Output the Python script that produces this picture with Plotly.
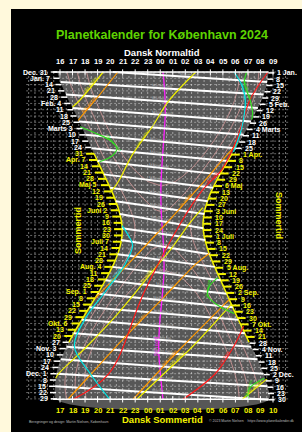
import math
import numpy as np
import plotly.graph_objects as go

# ---------------- DATA ----------------
# day numbers: 0 = 1 Jan 2024 ; times: clock hours in Danish normal time (CET), >24 = after midnight
sun_days = [-1, 15, 31, 45, 60, 74, 90, 105, 121, 135, 152, 166, 172, 182, 196, 213, 227, 244, 258, 274, 288, 300, 319, 335, 349, 364]
sunset = [15.78, 16.17, 16.70, 17.22, 17.72, 18.19, 18.72, 19.22, 19.77, 20.23, 20.68, 20.91, 20.96, 20.94, 20.74, 20.28, 19.77, 19.09, 18.48, 17.78, 17.17, 16.70, 16.05, 15.72, 15.61, 15.76]
sunrise = [32.64, 32.47, 32.07, 31.58, 31.02, 30.44, 29.75, 29.10, 28.46, 27.98, 27.57, 27.42, 27.42, 27.51, 27.78, 28.25, 28.70, 29.24, 29.69, 30.21, 30.68, 31.09, 31.76, 32.24, 32.55, 32.65]
summer_start, summer_end = 90, 300

tw_days = [-1, 15, 31, 45, 60, 74, 91, 105, 121, 135, 152, 166, 172, 182, 196, 213, 227, 244, 258, 274, 288, 305, 319, 335, 349, 364]
civil_eve = [16.56, 16.90, 17.38, 17.86, 18.34, 18.80, 19.38, 19.88, 20.50, 21.05, 21.61, 21.92, 21.98, 21.94, 21.65, 21.07, 20.49, 19.74, 19.10, 18.39, 17.80, 17.17, 16.75, 16.46, 16.39, 16.54]
civil_morn = [31.87, 31.74, 31.39, 30.94, 30.40, 29.83, 29.08, 28.44, 27.73, 27.16, 26.64, 26.41, 26.40, 26.52, 26.87, 27.46, 27.98, 28.59, 29.07, 29.60, 30.06, 30.61, 31.06, 31.49, 31.78, 31.88]

naut_a_days = [-1, 15, 31, 45, 60, 74, 91, 105, 121, 135, 145, 152, 155, 152, 145, 135, 121, 105, 91, 74, 60, 45, 31, 15, -1]
naut_a_time = [17.37, 17.68, 18.13, 18.58, 19.05, 19.52, 20.14, 20.73, 21.50, 22.30, 23.02, 23.57, 24.13, 24.69, 25.18, 25.90, 26.73, 27.60, 28.32, 29.11, 29.69, 30.22, 30.65, 30.96, 31.07]
naut_b_days = [364, 349, 335, 319, 305, 288, 274, 258, 244, 227, 213, 196, 191, 196, 213, 227, 244, 258, 274, 288, 305, 319, 335, 349, 364]
naut_b_time = [31.07, 30.97, 30.70, 30.30, 29.88, 29.35, 28.88, 28.32, 27.77, 27.03, 26.29, 25.15, 24.25, 23.37, 22.25, 21.45, 20.56, 19.85, 19.11, 18.51, 17.90, 17.51, 17.25, 17.20, 17.35]
astro_a_days = [-1, 15, 31, 45, 60, 74, 91, 105, 115, 121, 126, 121, 115, 105, 91, 74, 60, 45, 31, 15, -1]
astro_a_time = [18.12, 18.41, 18.85, 19.29, 19.76, 20.27, 20.98, 21.73, 22.47, 23.03, 24.11, 25.20, 25.81, 26.60, 27.48, 28.36, 28.97, 29.51, 29.93, 30.23, 30.32]
astro_b_days = [364, 349, 335, 319, 305, 288, 274, 258, 244, 227, 219, 227, 244, 258, 274, 288, 305, 319, 335, 349, 364]
astro_b_time = [30.32, 30.21, 29.96, 29.58, 29.17, 28.63, 28.14, 27.50, 26.82, 25.68, 24.25, 22.80, 21.51, 20.67, 19.85, 19.22, 18.61, 18.23, 17.99, 17.95, 18.10]

# Moon lines (start at evening edge, end at morning edge)
moonset_d0 = [10, 39, 69, 98, 128, 157, 186, 216, 246, 275, 305, 335]
moonset_t0 = [16.04, 17.00, 18.02, 18.99, 20.00, 20.76, 20.88, 20.17, 19.00, 17.74, 16.51, 15.72]
moonset_d1 = [24, 54, 84, 113, 143, 173, 202, 231, 261, 290, 319, 349]
moonset_t1 = [32.25, 31.24, 30.01, 28.78, 27.79, 27.43, 27.95, 28.83, 29.79, 30.75, 31.76, 32.55]
moonrise_d0 = [-1, 24, 54, 84, 113, 143, 173, 202, 231, 261, 290, 319, 349]
moonrise_t0 = [20.21, 16.47, 17.52, 18.52, 19.50, 20.44, 20.96, 20.58, 19.61, 18.35, 17.09, 16.05, 15.61]
moonrise_d1 = [10, 39, 69, 98, 128, 157, 186, 216, 246, 275, 305, 335, 364]
moonrise_t1 = [32.53, 31.79, 30.65, 29.40, 28.22, 27.52, 27.59, 28.35, 29.30, 30.24, 31.26, 32.24, 32.64]

# Planets
jup_transit1_d = [-1, 31, 38];               jup_transit1_t = [19.45, 17.54, 17.0]
jup_set1_d = [-1, 31, 60, 91, 121, 132];     jup_set1_t = [26.85, 24.69, 23.36, 21.78, 20.66, 20.1]
jup_rise_d = [150, 166, 196, 213, 244, 274, 305, 335, 340]
jup_rise_t = [27.4, 26.43, 24.87, 23.86, 22.05, 20.24, 18.12, 15.89, 15.65]
jup_transit2_d = [258, 305, 335, 364];       jup_transit2_t = [29.65, 26.56, 24.29, 22.1]
jup_set2_d = [341, 364];                     jup_set2_t = [32.5, 30.5]

sat_set1_d = [-1, 31, 45, 53];               sat_set1_t = [20.62, 18.77, 17.9, 17.45]
sat_rise_d = [78, 91, 121, 166, 213, 251];   sat_rise_t = [30.2, 29.35, 27.48, 24.59, 21.43, 18.8]
sat_transit_d = [201, 213, 251, 305, 335, 364]; sat_transit_t = [27.9, 26.83, 24.2, 20.46, 18.5, 16.6]
sat_set2_d = [251, 305, 335, 364];           sat_set2_t = [29.6, 25.76, 23.71, 21.8]

mars_rise_d = [-1, 30, 71, 108, 130, 166, 244, 335, 364]
mars_rise_t = [32.6, 31.16, 30.2, 28.9, 27.4, 25.68, 22.72, 19.9, 16.97]
mars_transit_d = [282, 305, 335, 364];       mars_transit_t = [30.65, 29.85, 28.39, 25.76]

ven_rise_d = [-1, 15, 31, 60, 88];           ven_rise_t = [29.9, 30.55, 30.79, 30.52, 29.85]
ven_set_d = [170, 182, 192, 213, 244, 274, 305, 335, 364]
ven_set_t = [20.95, 21.5, 21.8, 21.2, 19.6, 18.0, 17.15, 18.42, 20.0]

mer_rise1_d = [-1, 11, 31, 45, 52];          mer_rise1_t = [30.9, 30.71, 31.19, 31.37, 31.3]
mer_set1_d = [60, 67, 75, 84, 89, 94, 99];   mer_set1_t = [17.6, 18.79, 19.99, 20.55, 20.39, 19.99, 19.15]
mer_rise2_d = [228, 238, 248, 258, 268];     mer_rise2_t = [28.6, 27.9, 27.8, 28.5, 29.9]
mer_rise3_d = [340, 350, 358, 364];          mer_rise3_t = [32.3, 31.2, 31.0, 31.1]

midnight_d = [-1, 20, 45, 70, 100, 130, 160, 190, 220, 250, 280, 310, 340, 364]
midnight_t = [24.22, 24.35, 24.40, 24.30, 24.15, 24.05, 24.10, 24.25, 24.30, 24.15, 23.95, 23.88, 24.05, 24.22]

top_hours = list(range(16, 34))
top_labels = ["16", "17", "18", "19", "20", "21", "22", "23", "00", "01", "02", "03", "04", "05", "06", "07", "08", "09"]
bottom_labels = ["17", "18", "19", "20", "21", "22", "23", "00", "01", "02", "03", "04", "05", "06", "07", "08", "09", "10"]

left_days = list(range(-1, 364, 7))
left_labels = ["Dec. 31", "Jan. 7", "14", "21", "28", "Feb. 4", "11", "18", "25", "Marts 3", "10", "17", "24", "31",
               "Apr. 7", "14", "21", "28", "Maj 5", "12", "19", "26", "Juni 2", "9", "16", "23", "30", "Juli 7", "14",
               "21", "28", "Aug. 4", "11", "18", "25", "Sep. 1", "8", "15", "22", "29", "Okt. 6", "13", "20", "27",
               "Nov. 3", "10", "17", "24", "Dec. 1", "8", "15", "22", "29"]
right_days = list(range(0, 365, 7))
right_labels = ["1 Jan.", "8", "15", "22", "29", "5 Feb.", "12", "19", "26", "4 Marts", "11", "18", "25", "1 Apr.", "8",
                "15", "22", "29", "6 Maj", "13", "20", "27", "3 Juni", "10", "17", "24", "1 Juli", "8", "15", "22", "29",
                "5 Aug.", "12", "19", "26", "2 Sep.", "9", "16", "23", "30", "7 Okt.", "14", "21", "28", "4 Nov.", "11",
                "18", "25", "2 Dec.", "9", "16", "23", "30"]

# ---------------- GEOMETRY ----------------
W, H = 302, 432
PX0, PXH = 60.0, 12.53
PY0, PYD = 72.9, 0.898
def hx(p): return 16 + (p - PX0) / PXH
def dy(p): return (p - PY0) / PYD
def px(h): return PX0 + (h - 16) * PXH
def py(d): return PY0 + d * PYD

YEL = "#f2f200"
FONT = "Liberation Sans, Arial, sans-serif"

fig = go.Figure()

def line(xs, ys, color, width, dash=None, shape="linear", fill=None, fillcolor=None):
    fig.add_trace(go.Scatter(x=xs, y=ys, mode="lines",
                             line=dict(color=color, width=width, dash=dash, shape=shape),
                             fill=fill, fillcolor=fillcolor, hoverinfo="skip", showlegend=False))

def label(x, y, text, color, size, angle=0, xanchor="center", bold=False, yanchor="middle"):
    fig.add_annotation(x=x, y=y, xref="x", yref="y", text=("<b>%s</b>" % text) if bold else text,
                       showarrow=False, font=dict(family=FONT, size=size, color=color),
                       textangle=angle, xanchor=xanchor, yanchor=yanchor)

# night area
line(sunset + sunrise[::-1], sun_days + sun_days[::-1], "rgba(0,0,0,0)", 0, shape="spline",
     fill="toself", fillcolor="#575757")

# grid
gx, gy = [], []
for k in range(0, 42):
    h = 13.5 + 0.5 * k
    gx += [h, h, None]; gy += [-1, 364, None]
line(gx, gy, "rgba(255,255,255,0.45)", 1, dash="2px,2px")
gx, gy = [], []
for d in left_days:
    gx += [13.3, 34.3, None]; gy += [d, d, None]
line(gx, gy, "rgba(255,255,255,0.40)", 1, dash="2px,2px")

# twilight
TW = "rgba(205,150,150,0.85)"
line(civil_eve, tw_days, TW, 1, shape="spline")
line(civil_morn, tw_days, TW, 1, shape="spline")
line(naut_a_time, naut_a_days, TW, 1)
line(naut_b_time, naut_b_days, TW, 1)
line(astro_a_time, astro_a_days, TW, 1)
line(astro_b_time, astro_b_days, TW, 1)

# summer part of boundaries
i0, i1 = sun_days.index(summer_start), sun_days.index(summer_end)
line(sunset[i0:i1 + 1], sun_days[i0:i1 + 1], YEL, 1.5, shape="spline")
line(sunrise[i0:i1 + 1], sun_days[i0:i1 + 1], YEL, 1.5, shape="spline")

# midnight
line(midnight_t, midnight_d, "#ff22ff", 1.3, shape="spline")

# moon
for a, b, c, e in zip(moonset_t0, moonset_d0, moonset_t1, moonset_d1):
    line([a, c], [b, e], "white", 2)
for a, b, c, e in zip(moonrise_t0, moonrise_d0, moonrise_t1, moonrise_d1):
    line([a, c], [b, e], "white", 2)

def ang(t0, d0, t1, d1):
    return math.degrees(math.atan2(py(d1) - py(d0), px(t1) - px(t0)))

for a, b, c, e in zip(moonset_t0, moonset_d0, moonset_t1, moonset_d1):
    label((a + c) / 2, (b + e) / 2 - 2.5, "Månen ned", "#b8b8b8", 4, ang(a, b, c, e))
for a, b, c, e in zip(moonrise_t0, moonrise_d0, moonrise_t1, moonrise_d1):
    label((a + c) / 2, (b + e) / 2 - 2.5, "Månen op", "#b8b8b8", 4, ang(a, b, c, e))

# planets
JUP, SAT, MARS, VEN, MER = "#f0f000", "#ff9a00", "#ff1a1a", "#00e5e5", "#33dd22"
planet_lines = [
    (jup_transit1_t, jup_transit1_d, JUP, "Jupiter syd"), (jup_set1_t, jup_set1_d, JUP, "Jupiter ned"),
    (jup_rise_t, jup_rise_d, JUP, "Jupiter op"), (jup_transit2_t, jup_transit2_d, JUP, "Jupiter syd"),
    (jup_set2_t, jup_set2_d, JUP, "Jupiter ned"),
    (sat_set1_t, sat_set1_d, SAT, "Saturn ned"), (sat_rise_t, sat_rise_d, SAT, "Saturn op"),
    (sat_transit_t, sat_transit_d, SAT, "Saturn syd"), (sat_set2_t, sat_set2_d, SAT, "Saturn ned"),
    (mars_rise_t, mars_rise_d, MARS, "Mars op"), (mars_transit_t, mars_transit_d, MARS, "Mars syd"),
    (ven_rise_t, ven_rise_d, VEN, "Venus op"), (ven_set_t, ven_set_d, VEN, "Venus ned"),
    (mer_rise1_t, mer_rise1_d, MER, "Merkur op"), (mer_set1_t, mer_set1_d, MER, "Merkur ned"),
    (mer_rise2_t, mer_rise2_d, MER, "Merkur op"), (mer_rise3_t, mer_rise3_d, MER, "Merkur op"),
]
for ts, ds, col, name in planet_lines:
    line(ts, ds, col, 1.2, shape="spline")
    k = len(ts) // 2
    k0, k1 = max(k - 1, 0), min(k, len(ts) - 1)
    if k0 == k1:
        k1 = k0 + 1
    label((ts[k0] + ts[k1]) / 2, (ds[k0] + ds[k1]) / 2 - 2, name, col, 4, ang(ts[k0], ds[k0], ts[k1], ds[k1]))

# top / bottom frame lines and hour ticks
line([15.45, 32.65], [-1, -1], "white", 1.5)
line([15.45, 32.65], [363.5, 363.5], "white", 1.5)
tx, ty = [], []
for h in top_hours:
    tx += [h, h, None, h, h, None]; ty += [-4, 3, None, 360, 367, None]
line(tx, ty, "white", 1)

# date ticks and labels
wx, wy, yx, yy = [], [], [], []
for d, txt in zip(left_days, left_labels):
    b = float(np.interp(d, sun_days, sunset))
    summer = summer_start <= d < summer_end
    col = YEL if summer else "white"
    if summer:
        yx += [b - 8 / PXH, b, None]; yy += [d, d, None]
    else:
        wx += [b - 6 / PXH, b, None]; wy += [d, d, None]
    off = 9.5 if summer else 7
    label(b - off / PXH, d, txt, col, 7, xanchor="right", bold=True)
for d, txt in zip(right_days, right_labels):
    b = float(np.interp(d, sun_days, sunrise))
    summer = summer_start <= d < summer_end
    col = YEL if summer else "white"
    if summer:
        yx += [b, b + 8 / PXH, None]; yy += [d, d, None]
    else:
        wx += [b, b + 6 / PXH, None]; wy += [d, d, None]
    off = 9.5 if summer else 7
    label(b + off / PXH, d, txt, col, 7, xanchor="left", bold=True)
line(wx, wy, "white", 1.5)
line(yx, yy, YEL, 2)

# hour labels
for h, a, b in zip(top_hours, top_labels, bottom_labels):
    label(h, dy(61), a, "white", 7.5, bold=True)
    label(h, dy(410), b, YEL, 7.5, bold=True)

label(hx(78), dy(231), "Sommertid", YEL, 9, angle=-90, bold=True)
label(hx(279), dy(215), "Sommertid", YEL, 9, angle=90, bold=True)
label(hx(156), dy(346), "Sol i nord", "#ff22ff", 4.5, angle=-90)

# header / footer
def ptext(xp, ypx, text, color, size, xanchor="center", bold=False):
    fig.add_annotation(x=xp / W, y=1 - ypx / H, xref="paper", yref="paper",
                       text=("<b>%s</b>" % text) if bold else text, showarrow=False,
                       font=dict(family=FONT, size=size, color=color), xanchor=xanchor, yanchor="middle")

ptext(162, 35, "Planetkalender for København 2024", "#5fd400", 12.5, bold=True)
ptext(162, 52.5, "Dansk Normaltid", "white", 9.5, bold=True)
ptext(162, 419, "Dansk Sommertid", YEL, 9.5, bold=True)
ptext(27, 422, "Beregninger og design: Martin Nielsen, København", "#bbbbbb", 3.5, xanchor="left")
ptext(296, 421, "© 2023 Martin Nielsen    https://www.planetkalender.dk", "#bbbbbb", 3.5, xanchor="right")

fig.add_shape(type="rect", xref="paper", yref="paper", x0=11 / W, x1=1, y0=0, y1=1 - 9 / H,
              fillcolor="black", line=dict(width=0), layer="below")

fig.update_layout(width=W, height=H, margin=dict(l=0, r=0, t=0, b=0),
                  paper_bgcolor="#fff9dc", plot_bgcolor="rgba(0,0,0,0)", showlegend=False,
                  xaxis=dict(range=[hx(0), hx(W)], visible=False, fixedrange=True),
                  yaxis=dict(range=[dy(H), dy(0)], visible=False, fixedrange=True))

fig.write_html("out.html", config={"displayModeBar": False},
               post_script="document.body.style.margin='0px';document.body.style.overflow='hidden';")
